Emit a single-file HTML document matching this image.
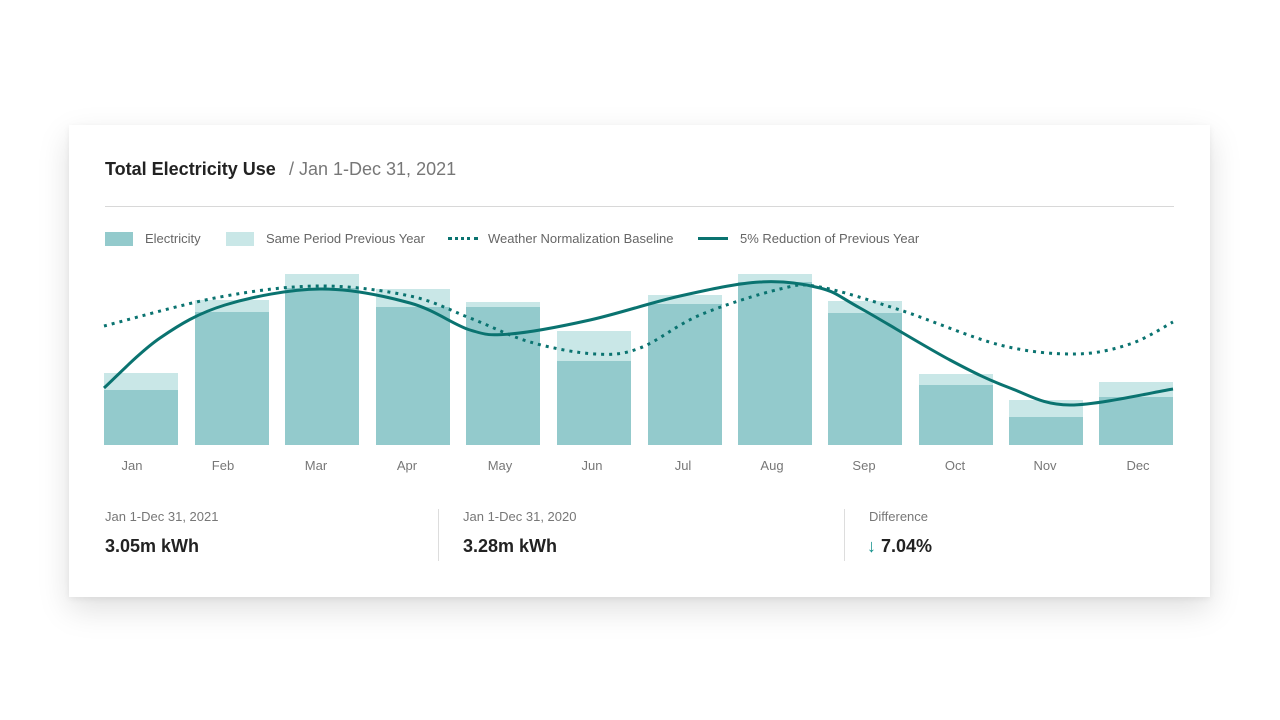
<!DOCTYPE html>
<html><head><meta charset="utf-8"><style>
body{margin:0;width:1280px;height:720px;background:#fff;font-family:"Liberation Sans",sans-serif;position:relative;overflow:hidden}
.card{position:absolute;left:69px;top:125px;width:1141px;height:472px;background:#fff;box-shadow:0 12px 30px rgba(0,0,0,0.13),0 2px 6px rgba(0,0,0,0.06)}
.t{position:absolute;white-space:nowrap}
</style></head><body>
<div class="card"></div>
<div class="t" style="left:105px;top:159px;font-size:18px;font-weight:bold;color:#222">Total Electricity Use</div>
<div class="t" style="left:289px;top:159px;font-size:18px;color:#777">/ Jan 1-Dec 31, 2021</div>
<div style="position:absolute;left:105px;top:206px;width:1069px;height:1px;background:#d8d8d8"></div>
<div style="position:absolute;left:105px;top:232px;width:28px;height:14px;background:#93cacc"></div>
<div class="t" style="left:145px;top:231px;font-size:13px;color:#666">Electricity</div>
<div style="position:absolute;left:226px;top:232px;width:28px;height:14px;background:#c9e7e7"></div>
<div class="t" style="left:266px;top:231px;font-size:13px;color:#666">Same Period Previous Year</div>
<div style="position:absolute;left:448px;top:237px;width:30px;border-top:3px dotted #0a7370"></div>
<div class="t" style="left:488px;top:231px;font-size:13px;color:#666">Weather Normalization Baseline</div>
<div style="position:absolute;left:698px;top:237px;width:30px;height:3px;background:#0a7370"></div>
<div class="t" style="left:740px;top:231px;font-size:13px;color:#666">5% Reduction of Previous Year</div>
<svg id="c" width="1280" height="720" style="position:absolute;left:0;top:0"></svg>
<div class="t" style="left:105px;top:509px;font-size:13px;color:#777">Jan 1-Dec 31, 2021</div>
<div class="t" style="left:105px;top:536px;font-size:18px;font-weight:bold;color:#222">3.05m kWh</div>
<div style="position:absolute;left:438px;top:509px;width:1px;height:52px;background:#ddd"></div>
<div class="t" style="left:463px;top:509px;font-size:13px;color:#777">Jan 1-Dec 31, 2020</div>
<div class="t" style="left:463px;top:536px;font-size:18px;font-weight:bold;color:#222">3.28m kWh</div>
<div style="position:absolute;left:844px;top:509px;width:1px;height:52px;background:#ddd"></div>
<div class="t" style="left:869px;top:509px;font-size:13px;color:#777">Difference</div>
<div class="t" style="left:867px;top:536px;font-size:18px;font-weight:bold;color:#222"><span style="color:#11908a;font-weight:normal">↓</span> 7.04%</div>
<script>
var xs=[104,195,285,376,466,557,648,738,828,919,1009,1099];
var lx=[132,223,316,407,500,592,683,772,864,955,1045,1138];
var prev=[373,300,274,289,302,331,295,274,301,374,400,382];
var el=[390,312,288,307,307,361,304,282,313,385,417,397];
var m=["Jan","Feb","Mar","Apr","May","Jun","Jul","Aug","Sep","Oct","Nov","Dec"];
var s="";
for(var i=0;i<12;i++){var w=74;
s+='<rect x="'+xs[i]+'" y="'+prev[i]+'" width="'+w+'" height="'+(445-prev[i])+'" fill="#c9e7e7"/>';
s+='<rect x="'+xs[i]+'" y="'+el[i]+'" width="'+w+'" height="'+(445-el[i])+'" fill="#93cacc"/>';
s+='<text x="'+lx[i]+'" y="470" font-size="13" fill="#777" text-anchor="middle" font-family="Liberation Sans,sans-serif">'+m[i]+'</text>';}
function cr(p){var d="M"+p[0][0]+","+p[0][1];for(var i=0;i<p.length-1;i++){var a=p[Math.max(i-1,0)],b=p[i],c=p[i+1],e=p[Math.min(i+2,p.length-1)];
d+=" C"+(b[0]+(c[0]-a[0])/6)+","+(b[1]+(c[1]-a[1])/6)+" "+(c[0]-(e[0]-b[0])/6)+","+(c[1]-(e[1]-b[1])/6)+" "+c[0]+","+c[1];}return d;}
var solid=[[104,388],[160,338],[225,305],[320,289],[410,303],[470,330],[510,334],[590,320],[680,296],[760,282],[820,288],[860,308],[950,360],[1010,388],[1070,405],[1173,389]];
var dot=[[104,326],[220,297],[320,286],[410,296],[470,318],[530,342],[595,354],[640,348],[700,315],[780,289],[820,287],[900,310],[1000,345],[1075,354],[1130,344],[1173,322]];
s+='<path d="'+cr(dot)+'" fill="none" stroke="#0a7370" stroke-width="3" stroke-dasharray="3,5"/>';
s+='<path d="'+cr(solid)+'" fill="none" stroke="#0a7370" stroke-width="3"/>';
document.getElementById("c").innerHTML=s;
</script>
</body></html>
